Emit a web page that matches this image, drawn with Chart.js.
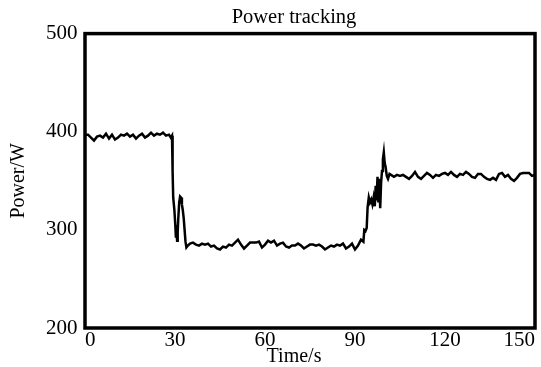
<!DOCTYPE html>
<html>
<head>
<meta charset="utf-8">
<script src="https://cdn.jsdelivr.net/npm/chart.js@4/dist/chart.umd.min.js"></script>
<style>
  html, body { margin: 0; padding: 0; background: #ffffff; }
  #wrap { width: 541px; height: 367px; }
</style>
</head>
<body>
<div id="wrap"><canvas id="c" width="541" height="367"></canvas></div>
<script>
// ---- data ----
const chartTitle = "Power tracking";
const xAxisTitle = "Time/s";
const yAxisTitle = "Power/W";
const xTicks = [0, 30, 60, 90, 120, 150];
const yTicks = [200, 300, 400, 500];

const times = [
  0,1,2,3,4,5,6,7,8,9,10,11,12,13,14,15,16,17,18,19,20,21,22,23,24,25,26,27,28,28.6,
  29.0,29.2,29.4,29.8,30.1,30.3,30.5,30.7,30.9,31.1,31.4,31.7,32.0,32.3,32.6,32.9,33.2,33.5,33.8,34.3,
  35,36,37,38,39,40,41,42,43,44,45,46,47,48,49,50,51,52,53,54,55,56,57,58,59,60,
  61,62,63,64,65,66,67,68,69,70,71,72,73,74,75,76,77,78,79,80,81,82,83,84,85,86,87,88,89,90,91,92,
  92.8,93.1,93.5,93.9,94.2,94.6,95.0,95.4,95.8,96.2,96.6,96.9,97.2,97.5,97.8,98.1,98.4,98.7,99.0,99.3,99.6,99.9,100.2,100.6,101.0,
  101.5,102,103,104,105,106,107,108,109,110,111,112,113,114,115,116,117,118,119,120,
  121,122,123,124,125,126,127,128,129,130,131,132,133,134,135,136,137,138,139,140,
  141,142,143,144,145,146,147,148,149,150
];
const power = [
  397,397,394,391,395,396,394,398,393,397,392,394,397,396,398,395,397,393,396,398,394,396,399,396,398,397,399,396,397,394,
  396,360,333,320,305,292,300,289,298,312,328,334,333,326,320,312,300,288,282,284,
  286,287,285,284,286,285,286,283,284,281,280,283,282,285,284,287,290,285,281,284,287,287,287,288,282,285,
  289,287,289,284,286,287,283,282,284,284,286,284,281,283,285,285,284,285,283,280,282,284,283,285,284,286,281,283,286,280,284,290,
  288,300,299,302,323,333,328,331,326,333,324,345,330,354,328,352,322,348,360,372,379,368,364,355,352,
  357,356,354,356,355,356,354,352,355,359,354,352,355,358,356,353,356,355,357,358,
  356,359,356,354,357,356,359,357,354,353,357,357,354,352,351,353,351,357,358,354,
  356,352,350,353,357,358,358,358,355,356
];

const points = times.map((t, i) => ({ x: t, y: power[i] }));
const FONT = "'Liberation Serif', 'Times New Roman', serif";

const frame = {
  id: 'frame',
  afterDatasetsDraw(chart) {
    const a = chart.chartArea, ctx = chart.ctx;
    ctx.save();
    ctx.strokeStyle = '#000';
    ctx.lineWidth = 3.5;
    ctx.strokeRect(a.left, a.top, a.right - a.left, a.bottom - a.top);
    ctx.restore();
  }
};

new Chart(document.getElementById('c'), {
  type: 'line',
  data: {
    datasets: [{
      data: points,
      borderColor: '#000',
      borderWidth: 2.5,
      pointRadius: 0,
      tension: 0,
      fill: false
    }]
  },
  options: {
    responsive: false,
    animation: false,
    layout: { padding: { left: 53, right: 6, top: 0, bottom: 0 } },
    plugins: {
      legend: { display: false },
      tooltip: { enabled: false },
      title: {
        display: true,
        text: chartTitle,
        color: '#000',
        font: { family: FONT, size: 20.5, weight: 'normal' },
        padding: { top: 5, bottom: 4 }
      },
      subtitle: {
        display: true,
        position: 'bottom',
        text: xAxisTitle,
        color: '#000',
        font: { family: FONT, size: 20, weight: 'normal' },
        padding: { top: -2, bottom: -2 }
      }
    },
    scales: {
      x: {
        type: 'linear',
        min: 0, max: 150,
        afterBuildTicks: s => { s.ticks = xTicks.map(v => ({ value: v })); },
        afterFit: s => { s.height = 19; s.paddingLeft = 0; s.paddingRight = 0; },
        grid: { display: false, drawTicks: false },
        border: { display: false },
        ticks: { color: '#000', font: { family: FONT, size: 21 }, padding: 0, maxRotation: 0, align: 'inner' },
        title: { display: false }
      },
      y: {
        min: 200, max: 500,
        afterBuildTicks: s => { s.ticks = yTicks.map(v => ({ value: v })); },
        afterFit: s => { s.width = 32; },
        grid: { display: false, drawTicks: false },
        border: { display: false },
        ticks: { color: '#000', font: { family: FONT, size: 21 }, mirror: true, padding: -39 },
        title: {
          display: true, text: yAxisTitle, color: '#000',
          font: { family: FONT, size: 20 }, padding: { top: -46, bottom: 0 }
        }
      }
    }
  },
  plugins: [frame]
});
</script>
</body>
</html>
